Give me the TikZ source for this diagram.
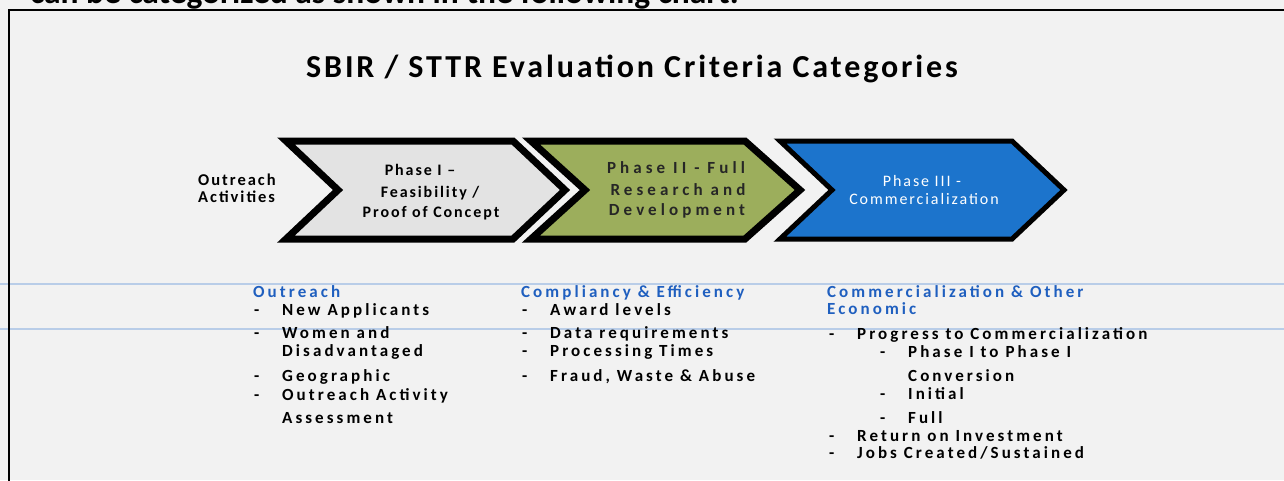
\documentclass[tikz,border=0pt]{standalone}
\usepackage{fontspec}
\setmainfont{Carlito}
\newfontfamily\spaced[LetterSpace=18]{Carlito}
\newfontfamily\spacedb[LetterSpace=12]{Carlito}
\newfontfamily\spacedc[LetterSpace=24]{Carlito}
\newfontfamily\spacedt[LetterSpace=9]{Carlito}
\definecolor{bg}{HTML}{F2F2F2}
\definecolor{chevgray}{HTML}{E3E3E3}
\definecolor{chevgreen}{HTML}{9CAE5C}
\definecolor{chevblue}{HTML}{1C74CC}
\definecolor{headblue}{HTML}{1F5FBF}
\definecolor{scanline}{HTML}{B9CDE8}
\tikzset{
  chev/.style={draw=black, line width=7pt, line join=miter, miter limit=10},
  lst/.style={anchor=base west, inner sep=0pt, font=\spaced\bfseries\fontsize{17}{19}\selectfont, text=black},
  hd/.style={lst, text=headblue},
  oact/.style={anchor=base west, inner sep=0pt, font=\spacedb\bfseries\fontsize{16.5}{18}\selectfont},
  chevtext/.style={anchor=base, inner sep=0pt, font=\spacedb\bfseries\fontsize{16}{18}\selectfont},
  chevtextg/.style={anchor=base, inner sep=0pt, font=\spacedc\bfseries\fontsize{17}{19}\selectfont, text=black!85},
  chevtextb/.style={anchor=base, inner sep=0pt, font=\spacedb\fontsize{16}{18}\selectfont, text=white},
}
\begin{document}
\begin{tikzpicture}[x=1pt,y=-1pt]
\useasboundingbox (0,0) rectangle (1284,480);
\clip (0,0) rectangle (1284,480);
\fill[bg] (0,0) rectangle (1284,480);
% scan lines
\draw[scanline, line width=1.5pt] (0,284) -- (1284,284);
\draw[scanline, line width=1.5pt] (0,329) -- (1284,329);
% cut-off top text
\node[anchor=base west, inner sep=0pt, font=\bfseries\fontsize{33.5}{35}\selectfont] (toptext) at (30,3) {can be categorized as shown in the following chart.};
% frame
\draw[line width=2pt] (9,482) -- (9,10) -- (1290,10);
% title
\node[anchor=base, inner sep=0pt, font=\spacedt\bfseries\fontsize{32}{34}\selectfont] (title) at (632,77) {SBIR / STTR Evaluation Criteria Categories};
% chevrons
\draw[chev, fill=chevgray] (286,141) -- (513,141) -- (565,190) -- (513,239) -- (286,239) -- (338,190) -- cycle;
\draw[chev, fill=chevgreen] (531,141) -- (745,141) -- (800,190) -- (745,239) -- (531,239) -- (585,190) -- cycle;
\draw[chev, line width=5pt, fill=chevblue] (780,141) -- (1012,141) -- (1064,190) -- (1012,239) -- (780,239) -- (832,190) -- cycle;
% chevron texts
\node[oact] (oa1) at (198,185) {Outreach};
\node[oact] (oa2) at (198,202) {Activities};
\node[chevtext] (p1a) at (420,175) {Phase I \textendash};
\node[chevtext] (p1b) at (430,197) {Feasibility /};
\node[chevtext] (p1c) at (431,217) {Proof of Concept};
\node[chevtextg] (p2a) at (676,173) {Phase II - Full};
\node[chevtextg] (p2b) at (678,195) {Research and};
\node[chevtextg] (p2c) at (677,215) {Development};
\node[chevtextb] (p3a) at (922,186) {Phase III -};
\node[chevtextb] (p3b) at (924,204) {Commercialization};
% column 1
\node[hd] (h1) at (253,297) {Outreach};
\node[lst] (d11) at (254,315) {-};
\node[lst] (t11) at (282,315) {New Applicants};
\node[lst] (d12) at (254,338) {-};
\node[lst] (t12) at (282,338) {Women and};
\node[lst] (t12b) at (282,356) {Disadvantaged};
\node[lst] (d13) at (254,381) {-};
\node[lst] (t13) at (282,381) {Geographic};
\node[lst] (d14) at (254,400) {-};
\node[lst] (t14) at (282,400) {Outreach Activity};
\node[lst] (t14b) at (282,423) {Assessment};
% column 2
\node[hd] (h2) at (521,297) {Compliancy \& Efficiency};
\node[lst] (d21) at (522,315) {-};
\node[lst] (t21) at (550,315) {Award levels};
\node[lst] (d22) at (522,338) {-};
\node[lst] (t22) at (550,338) {Data requirements};
\node[lst] (d23) at (522,356) {-};
\node[lst] (t23) at (550,356) {Processing Times};
\node[lst] (d24) at (522,381) {-};
\node[lst] (t24) at (550,381) {Fraud, Waste \& Abuse};
% column 3
\node[hd] (h3) at (827,297) {Commercialization \& Other};
\node[hd] (h3b) at (827,314) {Economic};
\node[lst] (d31) at (829,339) {-};
\node[lst] (t31) at (857,339) {Progress to Commercialization};
\node[lst] (d32) at (880,357) {-};
\node[lst] (t32) at (908,357) {Phase I to Phase I};
\node[lst] (t32b) at (908,381) {Conversion};
\node[lst] (d33) at (880,399) {-};
\node[lst] (t33) at (908,399) {Initial};
\node[lst] (d34) at (880,423) {-};
\node[lst] (t34) at (908,423) {Full};
\node[lst] (d35) at (829,441) {-};
\node[lst] (t35) at (857,441) {Return on Investment};
\node[lst] (d36) at (829,458) {-};
\node[lst] (t36) at (857,458) {Jobs Created/Sustained};
\end{tikzpicture}
\end{document}
